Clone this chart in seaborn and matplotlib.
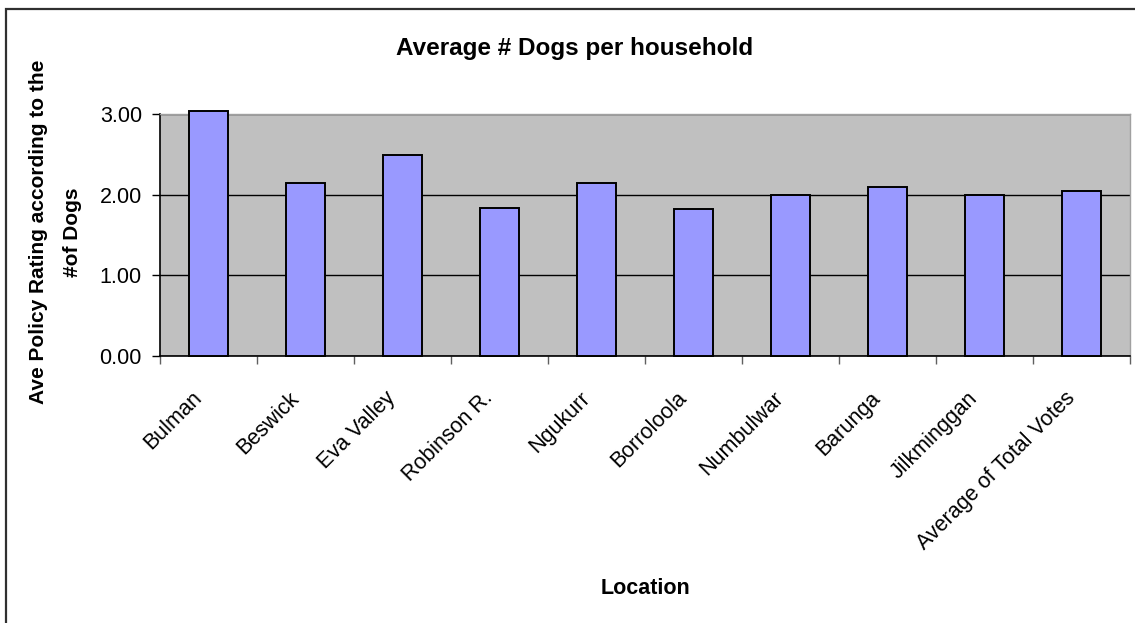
import matplotlib
matplotlib.use("Agg")
import matplotlib.pyplot as plt
from matplotlib.patches import Rectangle
from matplotlib.ticker import FixedLocator, FormatStrFormatter
from matplotlib.transforms import ScaledTranslation
import seaborn as sns
import pandas as pd

# Average number of dogs per household, by community
locations = ["Bulman", "Beswick", "Eva Valley", "Robinson R.", "Ngukurr",
             "Borroloola", "Numbulwar", "Barunga", "Jilkminggan",
             "Average of Total Votes"]
avg_dogs = [3.04, 2.14, 2.49, 1.84, 2.14, 1.82, 2.00, 2.10, 2.00, 2.04]
y_ticks = [0.0, 1.0, 2.0, 3.0]

title = "Average # Dogs per household"
x_title = "Location"
y_title_lines = ["Ave Policy Rating according to the", "#of Dogs"]

sns.set_theme(style="white")
plt.rcParams["font.family"] = ["Liberation Sans", "DejaVu Sans"]

W, H = 1135, 623
fig = plt.figure(figsize=(W / 100, H / 100), dpi=100)
fig.patch.set_facecolor("white")

# outer chart frame
fig.patches.append(Rectangle((6 / W, -0.1), 1.2, (H - 9) / H + 0.1,
                             transform=fig.transFigure, fill=False,
                             edgecolor="#303030", linewidth=1.6, zorder=10))

ax = fig.add_axes([160 / W, (H - 356) / H, 970 / W, 242 / H])
ax.set_facecolor("#C0C0C0")

df = pd.DataFrame({"Location": locations, "Dogs": avg_dogs})
sns.barplot(data=df, x="Location", y="Dogs", color="#9999FF", saturation=1,
            edgecolor="black", linewidth=1.4, width=0.41, ax=ax, zorder=3)
for p in ax.patches:
    p.set_clip_on(False)

ax.set_xlim(-0.5, len(locations) - 0.5)
ax.set_ylim(0, 3)

# horizontal gridlines
ax.set_yticks(y_ticks)
ax.yaxis.set_major_formatter(FormatStrFormatter("%.2f"))
ax.grid(axis="y", color="black", linewidth=1.0, zorder=1)
ax.grid(axis="x", visible=False)
ax.set_axisbelow(True)

# spines
for side in ["top", "right"]:
    ax.spines[side].set_color("#A0A0A0")
    ax.spines[side].set_linewidth(1.0)
for side in ["left", "bottom"]:
    ax.spines[side].set_color("black")
    ax.spines[side].set_linewidth(1.2)

# y ticks outside to the left
ax.tick_params(axis="y", which="major", direction="out", length=6, width=1.0,
               color="black", pad=7, labelsize=15.5, left=True,
               labelcolor="black")

# x: category boundary ticks, labels at category centres
ax.xaxis.set_minor_locator(FixedLocator([i - 0.5 for i in range(len(locations) + 1)]))
ax.tick_params(axis="x", which="minor", direction="out", length=6, width=1.0,
               color="#606060", bottom=True)
ax.tick_params(axis="x", which="major", length=0, pad=31, labelsize=15.5,
               labelcolor="black")
shift = ScaledTranslation(-6 / 100, 0, fig.dpi_scale_trans)
for lbl in ax.get_xticklabels():
    lbl.set_rotation(45)
    lbl.set_ha("right")
    lbl.set_va("baseline")
    lbl.set_rotation_mode("anchor")
    lbl.set_transform(lbl.get_transform() + shift)

ax.set_xlabel("")
ax.set_ylabel("")

fig.text(575 / W, 1 - 48 / H, title, ha="center", va="center",
         fontsize=17.5, fontweight="bold", color="black")
fig.text(645 / W, 1 - 588 / H, x_title, ha="center", va="center",
         fontsize=15.5, fontweight="bold", color="black")
fig.text(39 / W, 1 - 232 / H, y_title_lines[0], ha="center", va="center",
         rotation=90, fontsize=15, fontweight="bold", color="black")
fig.text(72 / W, 1 - 232 / H, y_title_lines[1], ha="center", va="center",
         rotation=90, fontsize=15, fontweight="bold", color="black")

fig.savefig("out.png", dpi=100, facecolor="white")
